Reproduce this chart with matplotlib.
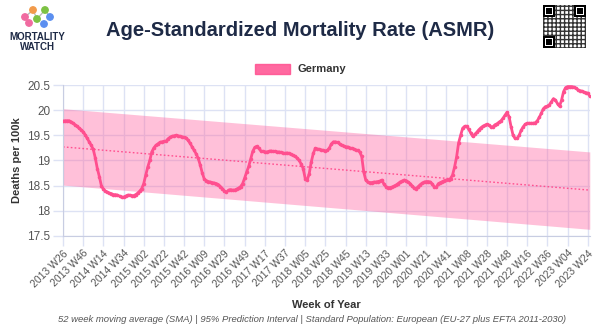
import datetime as dt

import matplotlib

matplotlib.use("Agg")
import matplotlib.pyplot as plt
from matplotlib.patches import Rectangle, Circle

plt.rcParams["font.family"] = ["Liberation Sans", "DejaVu Sans"]

# 52-week SMA of ASMR, Germany, sampled every 2nd week starting 2013 W26
asmr = [
    19.78, 19.79, 19.79, 19.79, 19.77, 19.74, 19.71, 19.68, 19.64, 19.61,
    19.57, 19.51, 19.44, 19.37, 19.30, 19.22, 19.05, 18.84, 18.68, 18.50,
    18.43, 18.39, 18.37, 18.35, 18.34, 18.32, 18.32, 18.31, 18.29, 18.27,
    18.27, 18.29, 18.31, 18.31, 18.30, 18.30, 18.32, 18.35, 18.39, 18.44,
    18.54, 18.71, 18.87, 19.00, 19.17, 19.25, 19.30, 19.33, 19.36, 19.37,
    19.38, 19.38, 19.43, 19.46, 19.48, 19.49, 19.50, 19.49, 19.48, 19.47,
    19.46, 19.45, 19.40, 19.34, 19.27, 19.20, 19.13, 19.04, 18.91, 18.75,
    18.63, 18.60, 18.58, 18.57, 18.56, 18.55, 18.54, 18.52, 18.48, 18.44,
    18.39, 18.37, 18.41, 18.42, 18.41, 18.41, 18.43, 18.45, 18.48, 18.54,
    18.65, 18.77, 18.88, 19.03, 19.18, 19.26, 19.28, 19.24, 19.19, 19.18,
    19.17, 19.17, 19.18, 19.19, 19.18, 19.18, 19.17, 19.17, 19.16, 19.15,
    19.14, 19.15, 19.14, 19.12, 19.10, 19.08, 19.05, 19.00, 18.93, 18.84,
    18.64, 18.61, 18.74, 18.97, 19.14, 19.24, 19.23, 19.22, 19.21, 19.20,
    19.19, 19.20, 19.25, 19.33, 19.37, 19.37, 19.36, 19.33, 19.30, 19.29,
    19.27, 19.27, 19.25, 19.24, 19.23, 19.21, 19.20, 19.17, 19.08, 18.77,
    18.61, 18.57, 18.56, 18.56, 18.57, 18.57, 18.58, 18.59, 18.61, 18.53,
    18.48, 18.46, 18.46, 18.47, 18.49, 18.51, 18.54, 18.57, 18.59, 18.61,
    18.60, 18.57, 18.54, 18.49, 18.45, 18.44, 18.48, 18.52, 18.55, 18.57,
    18.58, 18.58, 18.57, 18.53, 18.47, 18.47, 18.54, 18.56, 18.58, 18.60,
    18.61, 18.62, 18.64, 18.71, 18.87, 19.07, 19.35, 19.50, 19.64, 19.68,
    19.68, 19.62, 19.55, 19.48, 19.52, 19.56, 19.61, 19.65, 19.68, 19.70,
    19.72, 19.70, 19.67, 19.67, 19.71, 19.73, 19.76, 19.79, 19.84, 19.90,
    19.96, 19.87, 19.67, 19.50, 19.44, 19.44, 19.50, 19.60, 19.67, 19.72,
    19.74, 19.74, 19.74, 19.74, 19.75, 19.79, 19.86, 19.94, 20.03, 20.07,
    20.08, 20.11, 20.17, 20.23, 20.20, 20.13, 20.08, 20.20, 20.37, 20.45,
    20.47, 20.47, 20.47, 20.46, 20.44, 20.41, 20.39, 20.38, 20.36, 20.35,
    20.34, 20.28,
]
n_weeks = 523
# baseline trend and 95% prediction interval at first and last week
trend_ends = [19.27, 18.41]
upper_ends = [20.03, 19.17]
lower_ends = [18.51, 17.63]

start = dt.date.fromisocalendar(2013, 26, 1)
weeks = []
for i in range(n_weeks):
    y, w, _ = (start + dt.timedelta(weeks=i)).isocalendar()
    weeks.append(f"{y} W{w:02d}")

PINK = "#ff4f8f"
GRID = "#dde2f4"
NAVY = "#1e2a46"

fig = plt.figure(figsize=(6, 3.35), dpi=100)
ax = fig.add_axes([0.105, 0.296, 0.878, 0.45])

ends = [0, n_weeks - 1]
ax.fill_between(ends, lower_ends, upper_ends, color=(1.0, 0.39, 0.63, 0.4),
                linewidth=0, zorder=1)
ax.plot(ends, trend_ends, color=PINK, linestyle=(0, (1.2, 1.6)), linewidth=1,
        zorder=2)
ax.plot(range(0, n_weeks, 2), asmr, color=PINK, linewidth=2, marker="o",
        markersize=2.6, markeredgewidth=0, zorder=3)

ax.set_xlim(0, n_weeks - 1)
ax.set_ylim(17.5, 20.5)
ticks = list(range(0, n_weeks, 20))
ax.set_xticks(ticks, [weeks[i] for i in ticks], rotation=45, ha="right",
              rotation_mode="anchor", fontsize=7.5, color="#555555")
ax.set_yticks([17.5, 18, 18.5, 19, 19.5, 20, 20.5],
              ["17.5", "18", "18.5", "19", "19.5", "20", "20.5"],
              fontsize=8.5, color="#555555")
ax.tick_params(axis="both", color=GRID, length=7, width=1, pad=2)
ax.grid(color=GRID, linewidth=1)
ax.set_axisbelow(True)
for side in ("top", "right"):
    ax.spines[side].set_visible(False)
for side in ("left", "bottom"):
    ax.spines[side].set_color("#c8cde2")
ax.set_ylabel("Deaths per 100k", fontsize=8, fontweight="bold",
              color="#333333", labelpad=4)
ax.set_xlabel("Week of Year", fontsize=8, fontweight="bold",
              color="#333333", labelpad=8)

fig.text(0.5, 0.91, "Age-Standardized Mortality Rate (ASMR)",
         ha="center", va="center", fontsize=14.5, fontweight="bold",
         color=NAVY)

# legend
fig.patches.append(Rectangle((255 / 600, 1 - 74 / 335), 35 / 600, 10 / 335,
                             transform=fig.transFigure, facecolor=PINK,
                             edgecolor=PINK, alpha=0.85))
fig.text(297 / 600, 1 - 69 / 335, "Germany", ha="left", va="center",
         fontsize=8, fontweight="bold", color="#333333")

fig.text(0.52, 1 - 320 / 335,
         "52 week moving average (SMA) | 95% Prediction Interval | "
         "Standard Population: European (EU-27 plus EFTA 2011-2030)",
         ha="center", va="center", fontsize=6.8, style="italic",
         color="#555555")

# logo
logo = fig.add_axes([0, 1 - 55 / 335, 75 / 600, 55 / 335])
logo.set_xlim(0, 75)
logo.set_ylim(55, 0)
logo.axis("off")
dots = [(25, 17, "#f06aa0"), (33, 10, "#f29a4a"), (37, 19, "#7cc243"),
        (45, 10, "#7cc243"), (50, 17, "#5b8ff0"), (29, 23, "#f06aa0"),
        (44, 24, "#5b8ff0")]
for x, y, c in dots:
    logo.add_patch(Circle((x, y), 3.2, color=c))
logo.plot([25, 33, 37, 45, 50], [17, 10, 19, 10, 17], color="#bbbbbb",
          linewidth=1, zorder=0)
logo.text(37, 37, "MORTALITY", ha="center", va="center", fontsize=7,
          fontweight="bold", color=NAVY)
logo.text(37, 47, "WATCH", ha="center", va="center", fontsize=7,
          fontweight="bold", color=NAVY)

# QR code placeholder
qr = fig.add_axes([543 / 600, 1 - 48 / 335, 43 / 600, 43 / 335])
qr.set_xlim(0, 25)
qr.set_ylim(25, 0)
qr.axis("off")
qr.add_patch(Rectangle((0, 0), 25, 25, facecolor="white", edgecolor="#333333",
                       hatch="++++", linewidth=0))
for x, y in [(0, 0), (18, 0), (0, 18)]:
    qr.add_patch(Rectangle((x, y), 7, 7, facecolor="black"))
    qr.add_patch(Rectangle((x + 1, y + 1), 5, 5, facecolor="white"))
    qr.add_patch(Rectangle((x + 2, y + 2), 3, 3, facecolor="black"))

fig.savefig("out.png", dpi=100)
